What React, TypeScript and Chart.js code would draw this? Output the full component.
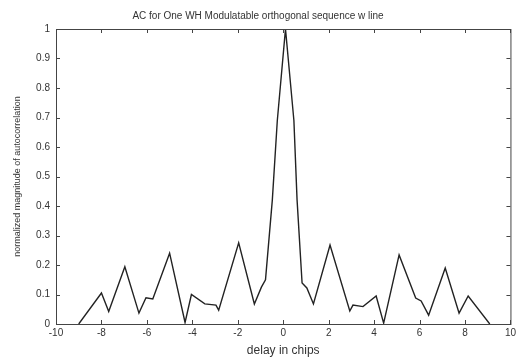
import React, { useEffect, useRef } from "react";
import { Chart, registerables } from "chart.js";

Chart.register(...registerables);

// Delay (in chips) of each sampled point of the autocorrelation curve
const delayChips = [
  -9.0, -8.0, -7.68, -6.97, -6.35, -6.04, -5.74, -5.0, -4.32, -4.04, -3.45, -2.96, -2.84,
  -1.96, -1.27, -0.96, -0.78, -0.48, -0.26, 0.1, 0.47, 0.61, 0.83, 1.04, 1.33, 2.06, 2.93,
  3.07, 3.51, 4.09, 4.42, 5.1, 5.83, 6.07, 6.4, 7.13, 7.74, 8.14, 9.09,
];

// Normalized magnitude of the autocorrelation at each delay
const magnitude = [
  0.0, 0.105, 0.042, 0.194, 0.037, 0.089, 0.085, 0.24, 0.005, 0.1, 0.068, 0.064, 0.047,
  0.275, 0.068, 0.125, 0.15, 0.42, 0.69, 1.0, 0.69, 0.42, 0.139, 0.122, 0.068, 0.268, 0.044,
  0.064, 0.059, 0.095, 0.003, 0.234, 0.088, 0.078, 0.03, 0.19, 0.037, 0.095, 0.0,
];

const xTicks = [-10, -8, -6, -4, -2, 0, 2, 4, 6, 8, 10];
const yTicks = [0, 0.1, 0.2, 0.3, 0.4, 0.5, 0.6, 0.7, 0.8, 0.9, 1];

const titleText = "AC for One WH Modulatable orthogonal sequence w line";
const xLabel = "delay in chips";
const yLabel = "normalized magnitude of autocorrelation";

const FONT = "'Liberation Sans', Arial, sans-serif";
const TEXT = "#333";

// Axes box with inward tick marks on all four sides
const boxPlugin = {
  id: "boxTicks",
  afterDatasetsDraw(chart: any) {
    const { ctx, chartArea: a, scales } = chart;
    const len = 4;
    ctx.save();
    ctx.strokeStyle = "#444";
    ctx.lineWidth = 1;
    ctx.strokeRect(a.left + 0.5, a.top + 0.5, a.right - a.left, a.bottom - a.top);
    ctx.beginPath();
    for (const v of xTicks) {
      const px = Math.round(scales.x.getPixelForValue(v)) + 0.5;
      ctx.moveTo(px, a.bottom);
      ctx.lineTo(px, a.bottom - len);
      ctx.moveTo(px, a.top);
      ctx.lineTo(px, a.top + len);
    }
    for (const v of yTicks) {
      const py = Math.round(scales.y.getPixelForValue(v)) + 0.5;
      ctx.moveTo(a.left, py);
      ctx.lineTo(a.left + len, py);
      ctx.moveTo(a.right, py);
      ctx.lineTo(a.right - len, py);
    }
    ctx.stroke();
    ctx.restore();
  },
};

export default function App() {
  const ref = useRef<HTMLCanvasElement | null>(null);

  useEffect(() => {
    if (!ref.current) return;
    const chart = new Chart(ref.current, {
      type: "line",
      data: {
        datasets: [
          {
            data: delayChips.map((x, i) => ({ x, y: magnitude[i] })),
            borderColor: "#222",
            borderWidth: 1.4,
            pointRadius: 0,
            tension: 0,
            fill: false,
          },
        ],
      },
      options: {
        animation: false,
        responsive: false,
        devicePixelRatio: 1,
        layout: { padding: { left: 0, right: 3, top: 0, bottom: 0 } },
        plugins: {
          legend: { display: false },
          tooltip: { enabled: false },
          title: {
            display: true,
            text: titleText,
            color: TEXT,
            font: { family: FONT, size: 10, weight: "normal" },
            padding: { top: 10, bottom: 7 },
          },
        },
        scales: {
          x: {
            type: "linear",
            min: -10,
            max: 10,
            afterBuildTicks: (s: any) => {
              s.ticks = xTicks.map((v) => ({ value: v }));
            },
            afterFit: (s: any) => {
              s.height = 35;
            },
            grid: { display: false, drawTicks: false },
            border: { display: false },
            ticks: {
              color: TEXT,
              font: { family: FONT, size: 10 },
              padding: 3,
              maxRotation: 0,
              autoSkip: false,
            },
            title: {
              display: true,
              text: xLabel,
              color: TEXT,
              font: { family: FONT, size: 12 },
              padding: { top: 1, bottom: 1 },
            },
          },
          y: {
            type: "linear",
            min: 0,
            max: 1,
            afterBuildTicks: (s: any) => {
              s.ticks = yTicks.map((v) => ({ value: v }));
            },
            afterFit: (s: any) => {
              s.width = 56;
            },
            grid: { display: false, drawTicks: false },
            border: { display: false },
            ticks: {
              color: TEXT,
              font: { family: FONT, size: 10 },
              padding: 6,
              autoSkip: false,
              callback: (v: any) => String(Math.round(Number(v) * 10) / 10),
            },
            title: {
              display: true,
              text: yLabel,
              color: TEXT,
              font: { family: FONT, size: 9 },
              padding: { top: 12, bottom: 0 },
            },
          },
        },
      },
      plugins: [boxPlugin],
    });
    return () => chart.destroy();
  }, []);

  return (
    <div style={{ position: "absolute", left: 0, top: 0, width: 519, height: 359, background: "#fff" }}>
      <canvas ref={ref} width={519} height={359} />
    </div>
  );
}
